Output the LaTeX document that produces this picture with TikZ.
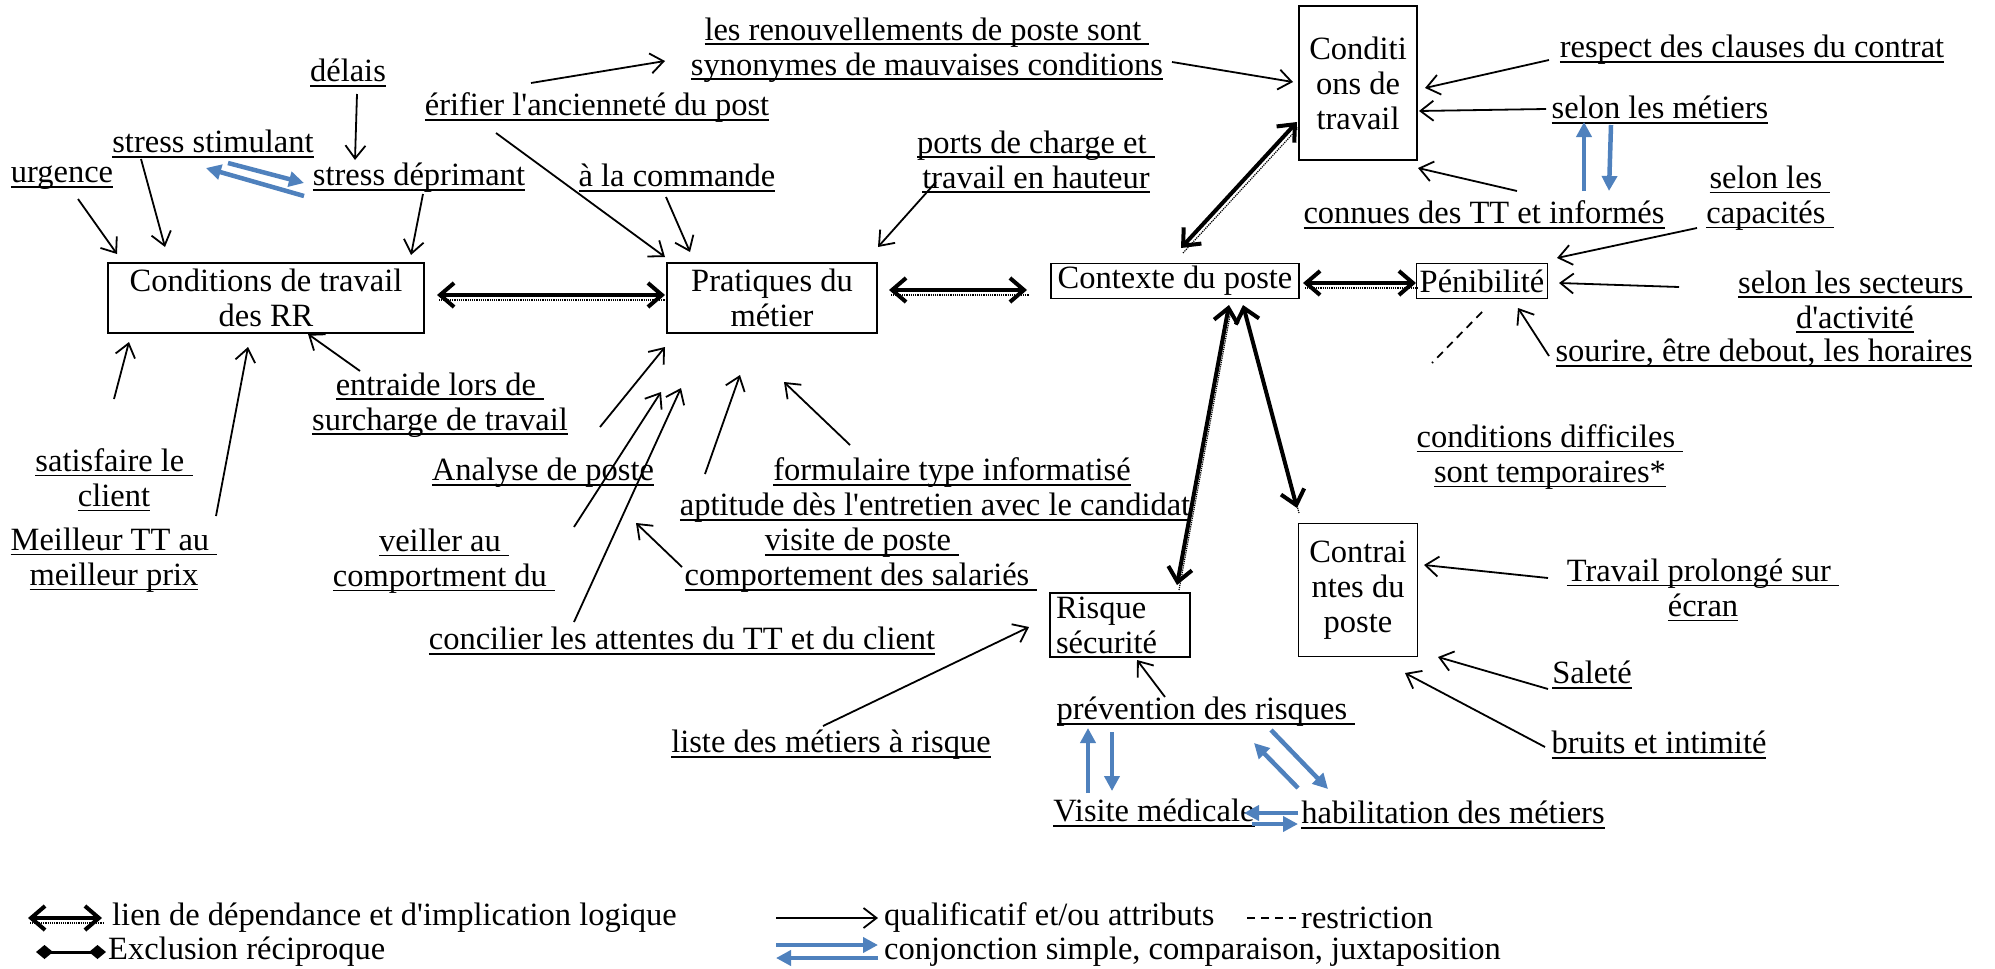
\documentclass[tikz,border=0pt]{standalone}
\usepackage{fontspec}
\setmainfont{Liberation Serif}
\usetikzlibrary{arrows.meta}
\definecolor{bleu}{RGB}{79,129,189}
\newsavebox{\soulbox}
\newcommand{\souligne}[1]{\leavevmode\sbox{\soulbox}{#1}\rlap{\rule[-5pt]{\wd\soulbox}{1.8pt}}\usebox{\soulbox}}

\begin{document}
\begin{tikzpicture}[
    x=1pt, y=-1pt,
    every node/.style={font=\fontsize{32.5}{35}\selectfont, inner sep=0pt},
    etiq/.style={align=center},
    boite/.style={draw, line width=1.8pt, align=center},
    qual/.style={line width=1.8pt, -{Straight Barb[length=13pt,width=20pt]}},
    lien/.style={line width=4pt,
        {Straight Barb[length=14pt,width=24pt]}-{Straight Barb[length=14pt,width=24pt]},
        preaction={draw, -, densely dotted, line width=1.2pt,
            transform canvas={shift={(2pt,-5pt)}}}},
    conj/.style={draw=bleu, line width=4.5pt, -{Triangle[length=15pt,width=15pt]}},
    tirets/.style={line width=1.8pt, dash pattern=on 8pt off 6pt}]
    \path[use as bounding box, fill=white] (0,0) rectangle (1995,969);

    % Cajas principales.
    \node[boite, minimum width=316pt, minimum height=70pt] (crr) at (266,298) {Conditions de travail\\des RR};
    \node[boite, minimum width=210pt, minimum height=70pt] (prat) at (772,298) {Pratiques du\\métier};
    \node[boite, minimum width=248pt, minimum height=35pt] (ctx) at (1175,281) {Contexte du poste};
    \node[boite, minimum width=131pt, minimum height=35pt] (penib) at (1482,281) {Pénibilité};
    \node[boite, minimum width=118pt, minimum height=154pt] (condtrav) at (1358,83) {Conditi\\ons de\\travail};
    \node[boite, minimum width=119pt, minimum height=133pt] (contr) at (1358,590) {Contrai\\ntes du\\poste};
    \node[boite, align=left, text width=128pt, inner xsep=6pt, minimum height=64pt] (risque) at (1120,625) {Risque\\sécurité};

    % Etiquetas subrayadas.
    \node[etiq] (delais) at (348,73) {\souligne{délais}};
    \node[etiq] (verif) at (597,108) {\souligne{érifier l\textquotesingle ancienneté du post}};
    \node[etiq] (renouv) at (927,50) {\souligne{les renouvellements de poste sont\ }\\\souligne{synonymes de mauvaises conditions}};
    \node[etiq] (stim) at (213,144) {\souligne{stress stimulant}};
    \node[etiq] (urg) at (62,178) {\souligne{urgence}};
    \node[etiq] (deprim) at (419,178) {\souligne{stress déprimant}};
    \node[etiq] (commande) at (677,178) {\souligne{à la commande}};
    \node[etiq] (ports) at (1036,162) {\souligne{ports de charge et\ }\\\souligne{travail en hauteur}};
    \node[etiq] (respect) at (1752,50) {\souligne{respect des clauses du contrat}};
    \node[etiq] (metiers) at (1660,110) {\souligne{selon les métiers}};
    \node[etiq] (connues) at (1484,215) {\souligne{connues des TT et informés}};
    \node[etiq] (capac) at (1770,198) {\souligne{selon les\ }\\\souligne{capacités\ }};
    \node[etiq] (secteurs) at (1855,302) {\souligne{selon les secteurs\ }\\\souligne{d\textquotesingle activité}};
    \node[etiq] (sourire) at (1764,353) {\souligne{sourire, être debout, les horaires}};
    \node[etiq] (entraide) at (440,405) {\souligne{entraide lors de\ }\\\souligne{surcharge de travail}};
    \node[etiq] (satisf) at (114,480) {\souligne{satisfaire le\ }\\\souligne{client}};
    \node[etiq] (meilleur) at (114,560) {\souligne{Meilleur TT au\ }\\\souligne{meilleur prix}};
    \node[etiq] (analyse) at (543,473) {\souligne{Analyse de poste}};
    \node[etiq] (formul) at (952,473) {\souligne{formulaire type informatisé}};
    \node[etiq] (aptitude) at (935,508) {\souligne{aptitude dès l\textquotesingle entretien avec le candidat}};
    \node[etiq] (veiller) at (444,561) {\souligne{veiller au\ }\\\souligne{comportment du\ }};
    \node[etiq] (visitep) at (862,543) {\souligne{visite de poste\ }};
    \node[etiq] (comportsal) at (861,578) {\souligne{comportement des salariés\ }};
    \node[etiq] (concilier) at (682,641) {\souligne{concilier les attentes du TT et du client}};
    \node[etiq] (diffic) at (1550,457) {\souligne{conditions difficiles\ }\\\souligne{sont temporaires*}};
    \node[etiq] (travpro) at (1703,590) {\souligne{Travail prolongé sur\ }\\\souligne{écran}};
    \node[etiq] (salete) at (1592,675) {\souligne{Saleté}};
    \node[etiq] (bruits) at (1659,745) {\souligne{bruits et intimité}};
    \node[etiq] (liste) at (831,745) {\souligne{liste des métiers à risque}};
    \node[etiq] (prevention) at (1206,712) {\souligne{prévention des risques\ }};
    \node[etiq] (visitemed) at (1154,813) {\souligne{Visite médicale}};
    \node[etiq] (habil) at (1453,815) {\souligne{habilitation des métiers}};

    % Liens de dependencia.
    \draw[lien] ([shift={(171,-3)}]crr.center) -- ([shift={(-107,-3)}]prat.center);
    \draw[lien] ([shift={(117,-8)}]prat.center) -- ([shift={(-148,9)}]ctx.center);
    \draw[lien] ([shift={(128,2)}]ctx.center) -- ([shift={(-66,2)}]penib.center);
    \draw[lien] ([shift={(6,-33)}]ctx.center) -- ([shift={(-61,39)}]condtrav.center);
    \draw[lien] ([shift={(54,24)}]ctx.center) -- ([shift={(57,-40)}]risque.center);
    \draw[lien] ([shift={(68,24)}]ctx.center) -- ([shift={(-61,-82)}]contr.center);

    % Calificativos.
    \draw[qual] ([shift={(9,21)}]delais.center) -- ([shift={(-64,-18)}]deprim.center);
    \draw[qual] ([shift={(-66,-25)}]verif.center) -- ([shift={(-262,11)}]renouv.center);
    \draw[qual] ([shift={(16,21)}]urg.center) -- ([shift={(-149,-44)}]crr.center);
    \draw[qual] ([shift={(-72,15)}]stim.center) -- ([shift={(-101,-51)}]crr.center);
    \draw[qual] ([shift={(4,16)}]deprim.center) -- ([shift={(145,-43)}]crr.center);
    \draw[qual] ([shift={(-101,25)}]verif.center) -- ([shift={(-107,-41)}]prat.center);
    \draw[qual] ([shift={(-11,19)}]commande.center) -- ([shift={(-82,-46)}]prat.center);
    \draw[qual] ([shift={(-100,20)}]ports.center) -- ([shift={(106,-51)}]prat.center);
    \draw[qual] ([shift={(245,12)}]renouv.center) -- ([shift={(-65,-1)}]condtrav.center);
    \draw[qual] ([shift={(-203,10)}]respect.center) -- ([shift={(67,5)}]condtrav.center);
    \draw[qual] ([shift={(-114,-1)}]metiers.center) -- ([shift={(61,28)}]condtrav.center);
    \draw[qual] ([shift={(33,-24)}]connues.center) -- ([shift={(60,85)}]condtrav.center);
    \draw[qual] ([shift={(-73,30)}]capac.center) -- ([shift={(75,-23)}]penib.center);
    \draw[qual] ([shift={(-176,-15)}]secteurs.center) -- ([shift={(77,2)}]penib.center);
    \draw[qual] ([shift={(-215,3)}]sourire.center) -- ([shift={(36,27)}]penib.center);
    \draw[qual] ([shift={(0,-81)}]satisf.center) -- ([shift={(-137,44)}]crr.center);
    \draw[qual] ([shift={(102,-44)}]meilleur.center) -- ([shift={(-18,49)}]crr.center);
    \draw[qual] ([shift={(-80,-34)}]entraide.center) -- ([shift={(42,36)}]crr.center);
    \draw[qual] ([shift={(57,-46)}]analyse.center) -- ([shift={(-107,49)}]prat.center);
    \draw[qual] ([shift={(130,-34)}]veiller.center) -- ([shift={(-111,94)}]prat.center);
    \draw[qual] ([shift={(-108,-19)}]concilier.center) -- ([shift={(-91,90)}]prat.center);
    \draw[qual] ([shift={(-230,-34)}]aptitude.center) -- ([shift={(-32,77)}]prat.center);
    \draw[qual] ([shift={(-102,-28)}]formul.center) -- ([shift={(12,84)}]prat.center);
    \draw[qual] ([shift={(-179,-11)}]comportsal.center) -- ([shift={(192,-38)}]veiller.center);
    \draw[qual] ([shift={(-8,-19)}]liste.center) -- ([shift={(-91,2)}]risque.center);
    \draw[qual] ([shift={(-41,-15)}]prevention.center) -- ([shift={(17,35)}]risque.center);
    \draw[qual] ([shift={(-155,-12)}]travpro.center) -- ([shift={(66,-25)}]contr.center);
    \draw[qual] ([shift={(-44,14)}]salete.center) -- ([shift={(80,67)}]contr.center);
    \draw[qual] ([shift={(-114,2)}]bruits.center) -- ([shift={(47,83)}]contr.center);

    % Conjunciones (azul).
    \draw[conj] ([shift={(15,19)}]stim.center) -- ([shift={(-115,5)}]deprim.center);
    \draw[conj] ([shift={(-115,18)}]deprim.center) -- ([shift={(-7,24)}]stim.center);
    \draw[conj] ([shift={(100,-24)}]connues.center) -- ([shift={(-76,12)}]metiers.center);
    \draw[conj] ([shift={(-49,15)}]metiers.center) -- ([shift={(125,-24)}]connues.center);
    \draw[conj] ([shift={(-66,-20)}]visitemed.center) -- ([shift={(-118,16)}]prevention.center);
    \draw[conj] ([shift={(-94,20)}]prevention.center) -- ([shift={(-42,-22)}]visitemed.center);
    \draw[conj] ([shift={(-155,-27)}]habil.center) -- ([shift={(48,31)}]prevention.center);
    \draw[conj] ([shift={(65,18)}]prevention.center) -- ([shift={(-125,-26)}]habil.center);
    \draw[conj] ([shift={(-155,-2)}]habil.center) -- ([shift={(90,0)}]visitemed.center);
    \draw[conj] ([shift={(98,11)}]visitemed.center) -- ([shift={(-155,9)}]habil.center);

    % Restriccion.
    \coordinate (restr) at (1432,363);
    \draw[tirets] ([shift={(0,31)}]penib.center) -- (restr);

    % Leyenda.
    \node[anchor=west] (leglien) at (112,918) {lien de dépendance et d\textquotesingle implication logique};
    \node[anchor=west] (legexcl) at (108,952) {Exclusion réciproque};
    \node[anchor=west] (legqual) at (884,918) {qualificatif et/ou attributs};
    \node[anchor=west] (legrest) at (1301,918) {restriction};
    \node[anchor=west] (legconj) at (884,952) {conjonction simple, comparaison, juxtaposition};
    \draw[lien] ([xshift=-84pt]leglien.west) -- ([xshift=-10pt]leglien.west);
    \draw[line width=3pt, {Diamond[length=17pt,width=14pt]}-{Diamond[length=17pt,width=14pt]}]
        ([xshift=-72pt]legexcl.west) -- ([xshift=-2pt]legexcl.west);
    \draw[qual] ([xshift=-108pt]legqual.west) -- ([xshift=-6pt]legqual.west);
    \draw[tirets] ([xshift=-54pt]legrest.west) -- ([xshift=-5pt]legrest.west);
    \draw[conj] ([shift={(-108,-7)}]legconj.west) -- ([shift={(-6,-7)}]legconj.west);
    \draw[conj] ([shift={(-6,6)}]legconj.west) -- ([shift={(-108,6)}]legconj.west);
\end{tikzpicture}
\end{document}
